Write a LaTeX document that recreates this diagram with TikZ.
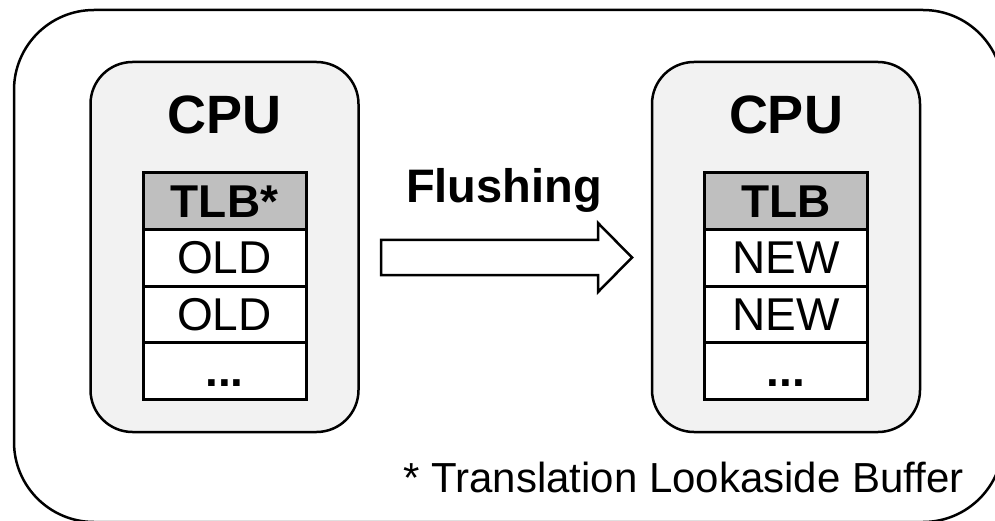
\documentclass[tikz,border=0pt]{standalone}
\usepackage{fontspec}
\setmainfont{Liberation Sans}
\begin{document}
\begin{tikzpicture}[x=1pt,y=-1pt,
  framebox/.style={draw,line width=2.5pt,rounded corners=80pt,inner sep=0pt},
  cpubox/.style={draw,line width=2.5pt,fill=boxgray,rounded corners=42pt,
    minimum width=268pt,minimum height=370pt,inner sep=0pt},
  cell/.style={draw,line width=3pt,fill=white,minimum width=163pt,
    minimum height=56.5pt,inner sep=0pt,text height=32pt,text depth=0pt,
    font=\fontsize{46}{50}\selectfont},
  headcell/.style={cell,fill=headgray,font=\fontsize{46}{50}\selectfont\bfseries},
  dotcell/.style={cell,font=\fontsize{46}{50}\selectfont\bfseries},
  title/.style={anchor=base,inner sep=0pt,font=\fontsize{54}{60}\selectfont\bfseries},
]
\definecolor{boxgray}{HTML}{F2F2F2}
\definecolor{headgray}{HTML}{BFBFBF}
\useasboundingbox (0,0) rectangle (995,521);
\clip (0,0) rectangle (995,521);

% outer frame
\node[framebox,minimum width=989pt,minimum height=512pt] (frame) at (508.5,266) {};

% left CPU with its TLB
\node[cpubox] (cpuL) at (224.5,247) {};
\node[title] (cpuLt) at (224.5,134) {CPU};
\node[headcell] (tlbL) at (224.5,201.25) {TLB*};
\node[cell] (l1) at (224.5,257.75) {OLD};
\node[cell] (l2) at (224.5,314.25) {OLD};
\node[dotcell] (l3) at (224.5,370.75) {...};

% right CPU with its TLB
\node[cpubox] (cpuR) at (786,247) {};
\node[title] (cpuRt) at (786,134) {CPU};
\node[headcell] (tlbR) at (786,201.25) {TLB};
\node[cell] (r1) at (786,257.75) {NEW};
\node[cell] (r2) at (786,314.25) {NEW};
\node[dotcell] (r3) at (786,370.75) {...};

% flushing block arrow
\node[anchor=base,inner sep=0pt,font=\fontsize{47}{52}\selectfont\bfseries] (flush) at (504,203) {Flushing};
\draw[line width=2.5pt,line join=miter,fill=white]
  (381,240) -- (598,240) -- (598,223) -- (632,257.5) -- (598,292)
  -- (598,275) -- (381,275) -- cycle;

% footnote
\node[anchor=base west,inner sep=0pt,font=\fontsize{42}{46}\selectfont] (note) at (403,492) {* Translation Lookaside Buffer};
\end{tikzpicture}
\end{document}
